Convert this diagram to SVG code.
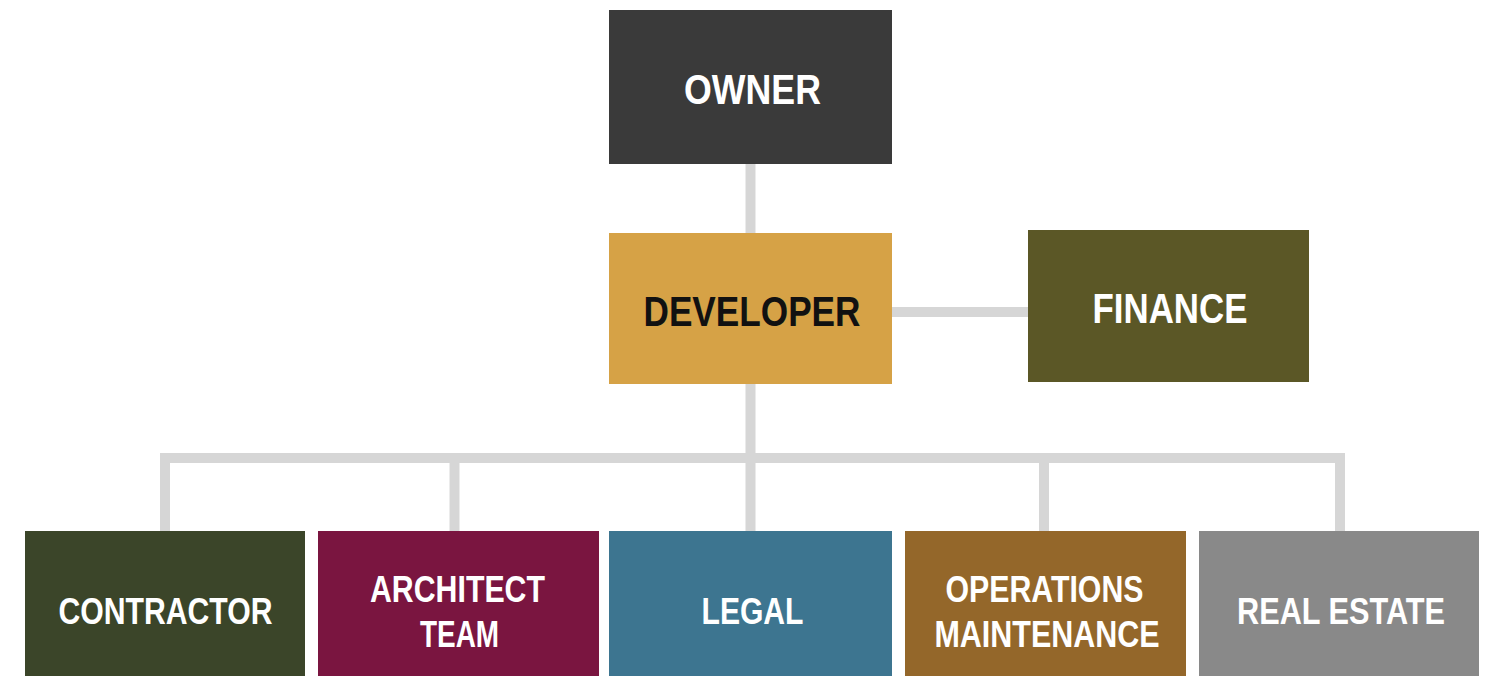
<svg xmlns="http://www.w3.org/2000/svg" width="1486" height="676" viewBox="0 0 1486 676">
  <style>
    .lbl { font-family: "Liberation Sans", Arial, sans-serif; font-weight: bold; text-anchor: middle; fill: #ffffff; }
    .big { font-size: 42px; }
    .small { font-size: 37px; }
    .dark { fill: #111111; }
    .wire { stroke: #d6d6d6; stroke-width: 10; fill: none; stroke-linecap: butt; stroke-linejoin: miter; }
  </style>
  <rect width="1486" height="676" fill="#ffffff"/>

  <!-- connectors -->
  <g id="connectors">
    <line class="wire" x1="750.5" y1="164" x2="750.5" y2="233"/>
    <line class="wire" x1="892" y1="312" x2="1028" y2="312"/>
    <line class="wire" x1="750.5" y1="384" x2="750.5" y2="531"/>
    <polyline class="wire" points="165,531 165,458 1340,458 1340,531"/>
    <line class="wire" x1="454.5" y1="458" x2="454.5" y2="531"/>
    <line class="wire" x1="1044" y1="458" x2="1044" y2="531"/>
  </g>

  <!-- top level -->
  <g id="owner">
    <rect x="609" y="10" width="283" height="154" fill="#3a3a3a"/>
    <text class="lbl big" x="752.5" y="104" textLength="137" lengthAdjust="spacingAndGlyphs">OWNER</text>
  </g>

  <g id="developer">
    <rect x="609" y="233" width="283" height="151" fill="#d6a246"/>
    <text class="lbl big dark" x="752" y="326" textLength="217" lengthAdjust="spacingAndGlyphs">DEVELOPER</text>
  </g>

  <g id="finance">
    <rect x="1028" y="230" width="281" height="152" fill="#5b5726"/>
    <text class="lbl big" x="1170" y="323" textLength="155" lengthAdjust="spacingAndGlyphs">FINANCE</text>
  </g>

  <!-- departments -->
  <g id="contractor">
    <rect x="25" y="531" width="280" height="145" fill="#3b4529"/>
    <text class="lbl small" x="165.5" y="624" textLength="214" lengthAdjust="spacingAndGlyphs">CONTRACTOR</text>
  </g>

  <g id="architect-team">
    <rect x="318" y="531" width="281" height="145" fill="#7a1540"/>
    <text class="lbl small" x="457.5" y="602" textLength="175" lengthAdjust="spacingAndGlyphs">ARCHITECT</text>
    <text class="lbl small" x="459.5" y="647" textLength="79" lengthAdjust="spacingAndGlyphs">TEAM</text>
  </g>

  <g id="legal">
    <rect x="609" y="531" width="283" height="145" fill="#3d7590"/>
    <text class="lbl small" x="752.5" y="624" textLength="102" lengthAdjust="spacingAndGlyphs">LEGAL</text>
  </g>

  <g id="operations-maintenance">
    <rect x="905" y="531" width="281" height="145" fill="#94672a"/>
    <text class="lbl small" x="1044.5" y="601.5" textLength="198" lengthAdjust="spacingAndGlyphs">OPERATIONS</text>
    <text class="lbl small" x="1047" y="646.5" textLength="225" lengthAdjust="spacingAndGlyphs">MAINTENANCE</text>
  </g>

  <g id="real-estate">
    <rect x="1199" y="531" width="280" height="145" fill="#898989"/>
    <text class="lbl small" x="1341" y="624" textLength="208" lengthAdjust="spacingAndGlyphs">REAL ESTATE</text>
  </g>
</svg>
